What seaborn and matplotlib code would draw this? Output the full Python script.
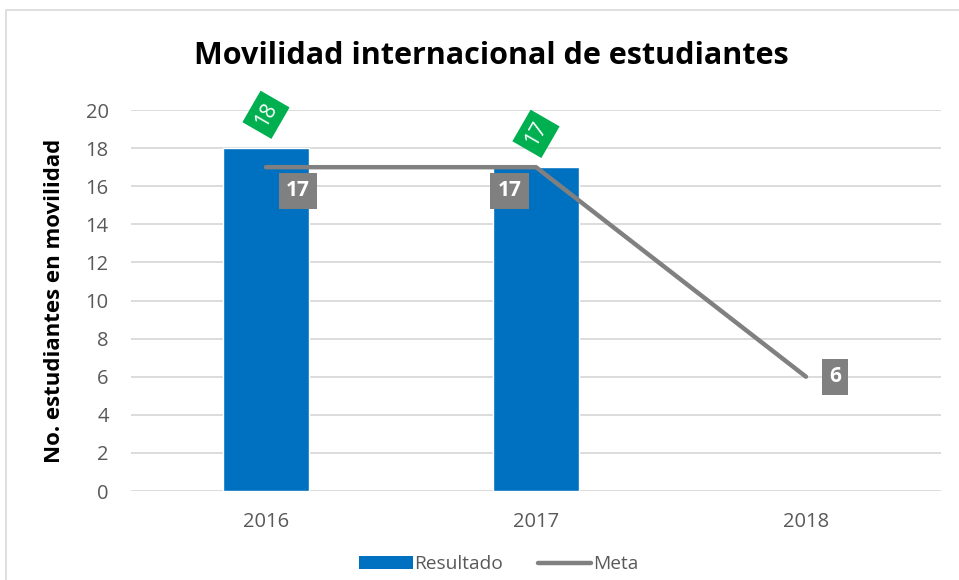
import numpy as np
import pandas as pd
import seaborn as sns
import matplotlib.pyplot as plt
from matplotlib.patches import Patch, Rectangle
from matplotlib.lines import Line2D

years = ["2016", "2017", "2018"]
resultado = [18, 17, np.nan]
meta = [17, 17, 6]

# label offsets (points) for the meta value boxes, as Excel placed them
meta_offsets = [(23, -17), (-19, -17), (21, 0)]

BLUE = "#0070C0"
GREEN = "#00B050"
GRAY = "#808080"
TXT = "#595959"

sns.set_theme(style="white")
plt.rcParams["font.family"] = ["Open Sans", "DejaVu Sans"]

fig = plt.figure(figsize=(9.59, 5.8), dpi=100)
ax = fig.add_axes([0.1366, 0.1534, 0.8446, 0.6569])

df = pd.DataFrame({"year": years, "Resultado": resultado, "Meta": meta})
pos = np.arange(len(years))

sns.barplot(data=df, x="year", y="Resultado", color=BLUE, width=0.315,
            saturation=1, ax=ax, zorder=2)
sns.lineplot(x=pos, y=df["Meta"], color=GRAY, linewidth=3.2, ax=ax,
             zorder=3, solid_capstyle="round", solid_joinstyle="round")

ax.set_xlim(-0.5, 2.5)
ax.set_ylim(0, 20)
ax.set_yticks(range(0, 21, 2))
ax.yaxis.grid(True, color="#D9D9D9", linewidth=1.3, zorder=0)
ax.set_axisbelow(True)
for s in ax.spines.values():
    s.set_visible(False)
ax.tick_params(axis="both", length=0, labelsize=14.5, labelcolor=TXT)
ax.tick_params(axis="y", pad=16)
ax.tick_params(axis="x", pad=15)
ax.set_xlabel("")
ax.set_ylabel("No. estudiantes en movilidad", fontsize=16, fontweight="bold",
              color="black", labelpad=15)

# green rotated labels on bars
for i, v in enumerate(resultado):
    if np.isnan(v):
        continue
    ax.annotate(f"{v:g}", (pos[i], v), xytext=(0, 24), textcoords="offset points",
                ha="center", va="center", rotation=60, fontsize=15, color="white",
                bbox=dict(boxstyle="square,pad=0.3", fc=GREEN, ec="none"), zorder=5)

# gray meta labels
for i, v in enumerate(meta):
    ax.annotate(f"{v:g}", (pos[i], v), xytext=meta_offsets[i], textcoords="offset points",
                ha="center", va="center", fontsize=15, fontweight="bold", color="white",
                bbox=dict(boxstyle="square,pad=0.35", fc=GRAY, ec="none"), zorder=5)

fig.text(0.512, 0.903, "Movilidad internacional de estudiantes", ha="center",
         va="center", fontsize=22, fontweight="bold", color="black")

handles = [Patch(facecolor=BLUE, edgecolor="none"),
           Line2D([0], [0], color=GRAY, linewidth=3.2, solid_capstyle="round")]
fig.legend(handles, ["Resultado", "Meta"], loc="center", bbox_to_anchor=(0.52, 0.027),
           ncol=2, frameon=False, fontsize=13.8, handlelength=2.8, handleheight=0.6,
           columnspacing=1.8, handletextpad=0.1, labelcolor=TXT)

# outer chart border
fig.patches.append(Rectangle((0.0063, -0.01), 1.1, 0.992, transform=fig.transFigure,
                             fill=False, ec="#D9D9D9", lw=1.2))

fig.savefig("out.png", dpi=100)
